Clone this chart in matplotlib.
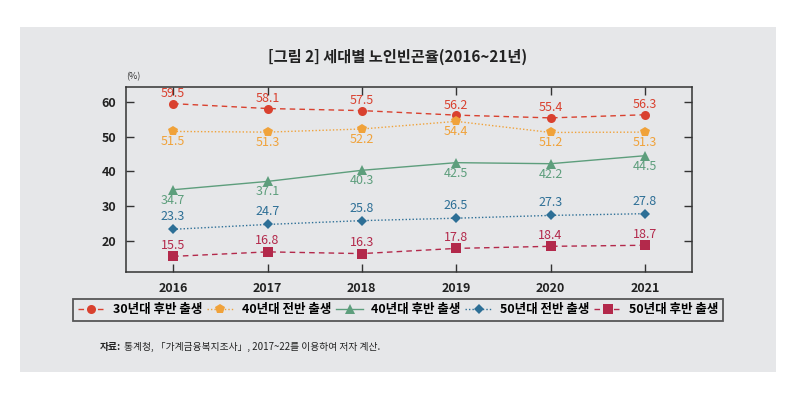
"""Recreate: [그림 2] 세대별 노인빈곤율(2016~21년)."""

import matplotlib
matplotlib.use('Agg')
import matplotlib.pyplot as plt
from matplotlib.patches import Rectangle

plt.rcParams['font.family'] = ['Noto Sans CJK KR', 'DejaVu Sans']

years = [2016, 2017, 2018, 2019, 2020, 2021]
series_names = ['30년대 후반 출생', '40년대 전반 출생', '40년대 후반 출생',
                '50년대 전반 출생', '50년대 후반 출생']
born_30s_late = [59.5, 58.1, 57.5, 56.2, 55.4, 56.3]
born_40s_early = [51.5, 51.3, 52.2, 54.4, 51.2, 51.3]
born_40s_late = [34.7, 37.1, 40.3, 42.5, 42.2, 44.5]
born_50s_early = [23.3, 24.7, 25.8, 26.5, 27.3, 27.8]
born_50s_late = [15.5, 16.8, 16.3, 17.8, 18.4, 18.7]
y_ticks = [20, 30, 40, 50, 60]

title = '[그림 2] 세대별 노인빈곤율(2016~21년)'
unit = '(%)'
source_head = '자료:'
source_body = '통계청, 「가계금융복지조사」, 2017~22를 이용하여 저자 계산.'

BG = '#e6e7e9'
# (values, color, linestyle, marker, markersize, label offset in points)
styles = [
    (born_30s_late, '#d9412f', (0, (4, 3)), 'o', 6.5, 7.2),
    (born_40s_early, '#f0a23a', (0, (1, 1.5)), 'p', 7.5, -7.4),
    (born_40s_late, '#5d9e7c', '-', '^', 6.5, -7.6),
    (born_50s_early, '#2d6f96', (0, (1, 1.5)), 'D', 5, 9.0),
    (born_50s_late, '#b3294b', (0, (4, 3)), 's', 7, 8.0),
]

fig = plt.figure(figsize=(7.99, 3.94), dpi=100)
fig.patch.set_facecolor('white')
fig.patches.append(Rectangle((20 / 799, 1 - 372 / 394), 756 / 799, 345 / 394,
                             transform=fig.transFigure, facecolor=BG,
                             edgecolor='none', zorder=-10))

ax = fig.add_axes([126 / 799, 1 - 272 / 394, 566 / 799, 185 / 394])
ax.set_facecolor(BG)

handles = []
for (vals, color, ls, marker, ms, off), name in zip(styles, series_names):
    h, = ax.plot(years, vals, color=color, linestyle=ls, linewidth=1.0,
                 marker=marker, markersize=ms, markeredgewidth=0,
                 label=name, zorder=3)
    handles.append(h)
    for x, v in zip(years, vals):
        ax.annotate(f'{v:.1f}', (x, v), xytext=(0, off),
                    textcoords='offset points', ha='center', va='center',
                    fontsize=9, color=color, fontweight='medium')

ax.set_xlim(2015.5, 2021.5)
ax.set_ylim(11, 64.3)
ax.set_xticks(years)
ax.set_yticks(y_ticks)
ax.tick_params(direction='in', length=6, width=1, color='#333333',
               top=True, right=True, labelsize=9, pad=7)
for lab in ax.get_xticklabels() + ax.get_yticklabels():
    lab.set_fontweight('bold')
    lab.set_color('#222222')
for sp in ax.spines.values():
    sp.set_color('#333333')
    sp.set_linewidth(1.1)

ax.text(0, 1.03, unit, transform=ax.transAxes, fontsize=6.5,
        color='#333333', ha='left', va='bottom')

fig.text(398 / 799, 1 - 57 / 394, title, ha='center', va='center',
         fontsize=11, fontweight='bold', color='#222222')

leg = fig.legend(handles=handles, loc='lower left', ncol=5, mode='expand',
                 bbox_to_anchor=(67 / 799, 1 - 327 / 394, 662 / 799, 24 / 394),
                 frameon=True, fancybox=False, facecolor=BG,
                 edgecolor='#333333', handlelength=2.2, handletextpad=0.6,
                 columnspacing=0.8, borderpad=0.35,
                 prop={'size': 9, 'weight': 'bold'})
leg.get_frame().set_linewidth(1.3)

t1 = fig.text(100 / 799, 1 - 347 / 394, source_head, ha='left', va='center',
              fontsize=7, fontweight='bold', color='#222222')
ax.annotate(source_body, xy=(1, 0.5), xycoords=t1, xytext=(2, 0),
            textcoords='offset points', ha='left', va='center',
            fontsize=7, color='#222222', annotation_clip=False)

fig.savefig('out.png', dpi=100, facecolor='white')
